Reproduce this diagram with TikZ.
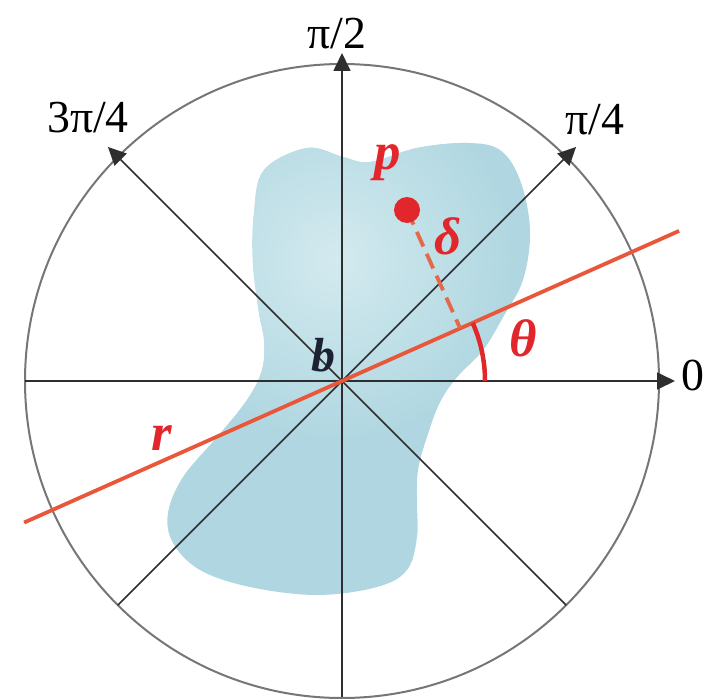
\documentclass[tikz,border=0pt]{standalone}
\usepackage{fontspec}
\setmainfont{Liberation Serif}
\usetikzlibrary{arrows.meta,calc}
\definecolor{blobcol}{HTML}{B0D7E1}
\definecolor{bloblight}{HTML}{D3EAEF}
\definecolor{axiscol}{HTML}{2E2E2E}
\definecolor{circcol}{HTML}{767676}
\definecolor{rline}{HTML}{E8573A}
\definecolor{rdash}{HTML}{E4694A}
\definecolor{redlab}{HTML}{E1272B}
\definecolor{blab}{HTML}{1C2233}
\tikzset{
  axisline/.style={draw=axiscol, line width=1.7bp},
  axisarrow/.style={axisline, -{Triangle[length=18bp,width=17bp]}},
  anglelab/.style={font=\fontsize{46}{46}\selectfont, text=black, inner sep=0pt},
  redlabel/.style={font=\fontsize{53}{53}\selectfont\bfseries\itshape, text=redlab, inner sep=0pt},
}
\begin{document}
\begin{tikzpicture}[x=1bp,y=-1bp]
\useasboundingbox (0,0) rectangle (707,699);
\coordinate (o) at (342,381);
% blob
\def\blobpath{plot[smooth cycle, tension=0.6] coordinates {
(307,148) (343,157) (370,162) (417,148) (467,143) (500,150) (520,180)
(530,230) (523,280) (503,317) (483,350) (457,377) (440,402) (427,437)
(418,470) (417,503) (417,537) (407,570) (377,587) (317,595) (250,587)
(200,570) (173,543) (168,513) (183,477) (217,437) (247,400) (262,370)
(264,340) (259,313) (253,263) (254,213) (264,170)}}
\fill[blobcol] \blobpath;
\begin{scope}
\clip \blobpath;
\shade[inner color=bloblight, outer color=blobcol] (335,260) circle (180);
\end{scope}
% circle
\draw[circcol, line width=2bp] (o) circle (317);
% axes
\coordinate (a0) at ($(o)+(0:333)$);
\coordinate (a45) at ($(o)+(-45:331)$);
\coordinate (a90) at ($(o)+(-90:328)$);
\coordinate (a135) at ($(o)+(-135:331)$);
\coordinate (a180) at ($(o)+(180:317)$);
\coordinate (a225) at ($(o)+(135:317)$);
\coordinate (a270) at ($(o)+(90:316)$);
\coordinate (a315) at ($(o)+(45:317)$);
\draw[axisarrow] (o) -- (a0);
\draw[axisarrow] (o) -- (a45);
\draw[axisarrow] (o) -- (a90);
\draw[axisarrow] (o) -- (a135);
\draw[axisline] (o) -- (a180);
\draw[axisline] (o) -- (a225);
\draw[axisline] (o) -- (a270);
\draw[axisline] (o) -- (a315);
% labels
\node[anglelab] (l0) at (693,375) {0};
\node[anglelab] (l45) at (595,120) {π/4};
\node[anglelab] (l90) at (337,34) {π/2};
\node[anglelab] (l135) at (88,118) {3π/4};
% line r
\coordinate (rl) at ($(o)+(156:348)$);
\coordinate (rr) at ($(o)+(-24:369)$);
\draw[rline, line width=3.8bp] (rl) -- (rr);
% theta arc
\draw[redlab, line width=4.5bp] ($(o)+(0:143)$) arc[start angle=0, end angle=-24, radius=143];
% point p and delta
\coordinate (foot) at (460,328);
\coordinate (pp) at (407,210);
\draw[rdash, line width=3.8bp, dash pattern=on 16bp off 8bp] (pp) -- (foot);
\fill[redlab] (pp) circle (13);
% letters
\node[redlabel] (lp) at (388,163) {p};
\node[redlabel] (ld) at (448,236) {δ};
\node[redlabel] (lt) at (523,338) {θ};
\node[redlabel] (lr) at (162,438) {r};
\node[redlabel, font=\fontsize{48}{48}\selectfont\bfseries\itshape, text=blab] (lb) at (323,355) {b};
\end{tikzpicture}
\end{document}
